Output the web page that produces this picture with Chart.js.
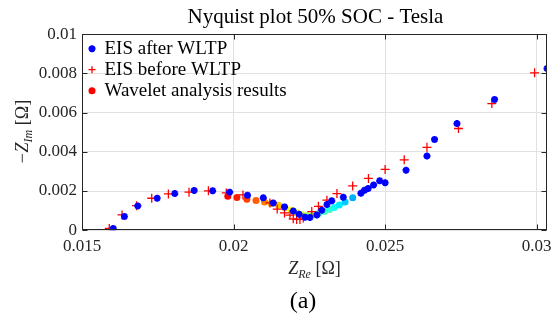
<!DOCTYPE html>
<html>
<head>
	<meta charset="UTF-8">
	<title>Nyquist plot 50% SOC - Tesla</title>
	<script src="https://cdn.jsdelivr.net/npm/chart.js@4.4.1/dist/chart.umd.min.js"></script>
	<style>
		html, body { margin: 0; padding: 0; background: #fff; }
		#wrap { width: 560px; height: 322px; }
	</style>
</head>
<body>
	<div id="wrap"><canvas id="nyquist"></canvas></div>
	<script>
	// values, Z_Re and -Z_Im in ohm
	const afterRe = [0.01603, 0.01640, 0.01684, 0.01748, 0.01806, 0.01870, 0.01931, 0.01987, 0.02046, 0.02098,
		0.02131, 0.02168, 0.02197, 0.02216, 0.02236, 0.02252, 0.02275, 0.02291, 0.02308, 0.02324,
		0.02362, 0.02420, 0.02432, 0.02444, 0.02462, 0.02482, 0.02500, 0.02569, 0.02638, 0.02663,
		0.02737, 0.02861, 0.03034];
	const afterIm = [0.00009, 0.00070, 0.00124, 0.00163, 0.00187, 0.00203, 0.00201, 0.00194, 0.00178, 0.00165,
		0.00139, 0.00119, 0.00098, 0.00082, 0.00066, 0.00065, 0.00078, 0.00102, 0.00131, 0.00150,
		0.00168, 0.00188, 0.00204, 0.00213, 0.00231, 0.00252, 0.00242, 0.00306, 0.00378, 0.00463,
		0.00544, 0.00667, 0.00825];

	const beforeRe = [0.01590, 0.01632, 0.01680, 0.01730, 0.01785, 0.01853, 0.01917, 0.01976, 0.02031, 0.02120,
		0.02144, 0.02168, 0.02186, 0.02197, 0.02208, 0.02219, 0.02230, 0.02258, 0.02280, 0.02308,
		0.02341, 0.02393, 0.02445, 0.02500, 0.02563, 0.02638, 0.02742, 0.02852, 0.02993];
	const beforeIm = [0.00009, 0.00078, 0.00125, 0.00163, 0.00185, 0.00194, 0.00201, 0.00190, 0.00180, 0.00139,
		0.00108, 0.00088, 0.00077, 0.00058, 0.00055, 0.00055, 0.00062, 0.00095, 0.00122, 0.00153,
		0.00187, 0.00226, 0.00264, 0.00310, 0.00359, 0.00423, 0.00519, 0.00646, 0.00803];

	const waveRe = [0.01981, 0.02011, 0.02044, 0.02074, 0.02102, 0.02124, 0.02148, 0.02170, 0.02190, 0.02208,
		0.02225, 0.02243, 0.02262, 0.02282, 0.02300, 0.02316, 0.02332, 0.02349, 0.02368, 0.02393];
	const waveIm = [0.00173, 0.00167, 0.00158, 0.00152, 0.00144, 0.00136, 0.00127, 0.00115, 0.00102, 0.00090,
		0.00080, 0.00075, 0.00077, 0.00085, 0.00095, 0.00106, 0.00116, 0.00128, 0.00144, 0.00165];

	const xTicks = [0.015, 0.02, 0.025, 0.03];
	const yTicks = [0, 0.002, 0.004, 0.006, 0.008, 0.01];
	const seriesNames = ['EIS after WLTP', 'EIS before WLTP', 'Wavelet analysis results'];

	const serif = 'Liberation Serif, Times New Roman, serif';

	let pts = (xs, ys) => xs.map((x, i) => ({x: x, y: ys[i]}));

	// jet colormap, run backwards (red -> blue) along the wavelet points
	let jet = (t) => {
		let c = (v) => Math.round(255 * Math.max(0, Math.min(1, v)));
		return 'rgb(' + c(1.5 - Math.abs(4 * t - 3)) + ',' + c(1.5 - Math.abs(4 * t - 2)) + ',' + c(1.5 - Math.abs(4 * t - 1)) + ')';
	};
	let waveColor = (ctx) => {
		let n = waveRe.length - 1;
		let i = ctx.dataIndex || 0;
		return jet(0.875 - 0.58 * i / n);
	};
	let fmt = (v) => String(parseFloat(v.toFixed(4)));

	// draws text pieces side by side (used for the subscripted axis labels)
	function drawPieces(ctx, pieces, cx, base) {
		let w = 0;
		pieces.forEach(p => { ctx.font = p.font; w += ctx.measureText(p.t).width; });
		let x = cx - w / 2;
		pieces.forEach(p => {
			ctx.font = p.font;
			ctx.fillText(p.t, x, base + (p.dy || 0));
			x += ctx.measureText(p.t).width;
		});
	}

	// move a layout box horizontally so it is centred on cx
	function centreOn(box, cx) {
		if (!box) return;
		let d = cx - (box.left + box.right) / 2;
		box.left += d;
		box.right += d;
	}

	const matlabAxes = {
		id: 'matlabAxes',
		afterLayout(chart) {
			const a = chart.chartArea;
			// legend sits inside the axes, top left
			let lg = chart.legend;
			let h = lg.bottom - lg.top;
			lg.left = a.left + 5;
			lg.top = a.top + 3;
			lg.bottom = lg.top + h;
			// title over the axes, "(a)" under the x label
			centreOn(chart.titleBlock, (a.left + a.right) / 2 + 1);
			let sub = chart.boxes.find(b => b.options && b.options.text === '(a)');
			centreOn(sub, 303);
		},
		afterDraw(chart) {
			const {ctx, chartArea: a, scales: {x, y}} = chart;
			ctx.save();
			ctx.strokeStyle = '#262626';
			ctx.lineWidth = 1;
			let L = Math.round(a.left) + 0.5, R = Math.round(a.right) - 0.5;
			let T = Math.round(a.top) + 0.5, B = Math.round(a.bottom) - 0.5;
			ctx.strokeRect(L, T, R - L, B - T);
			ctx.beginPath();
			xTicks.forEach(v => {
				let px = Math.round(x.getPixelForValue(v)) + 0.5;
				ctx.moveTo(px, B); ctx.lineTo(px, B - 5);
				ctx.moveTo(px, T); ctx.lineTo(px, T + 5);
			});
			yTicks.forEach(v => {
				let py = Math.round(y.getPixelForValue(v)) + 0.5;
				ctx.moveTo(L, py); ctx.lineTo(L + 5, py);
				ctx.moveTo(R, py); ctx.lineTo(R - 5, py);
			});
			ctx.stroke();

			// axis titles with subscripts
			ctx.fillStyle = '#262626';
			ctx.textBaseline = 'alphabetic';
			ctx.textAlign = 'left';
			drawPieces(ctx, [
				{t: 'Z', font: 'italic 18px ' + serif},
				{t: 'Re', font: 'italic 12px ' + serif, dy: 4},
				{t: ' [\u03A9]', font: '18px ' + serif}
			], (a.left + a.right) / 2, 274);
			ctx.translate(28, (a.top + a.bottom) / 2);
			ctx.rotate(-Math.PI / 2);
			drawPieces(ctx, [
				{t: '\u2212Z', font: 'italic 18px ' + serif},
				{t: 'Im', font: 'italic 12px ' + serif, dy: 4},
				{t: ' [\u03A9]', font: '18px ' + serif}
			], 0, 0);
			ctx.restore();
		}
	};

	const chart = new Chart(document.getElementById('nyquist'), {
		type: 'scatter',
		data: {
			datasets: [{
				label: seriesNames[0],
				data: pts(afterRe, afterIm),
				pointStyle: 'star',
				pointRadius: 3.5,
				pointBorderWidth: 2.2,
				pointBorderColor: '#0000ff',
				pointBackgroundColor: '#0000ff',
				borderColor: '#0000ff',
				backgroundColor: '#0000ff'
			}, {
				label: seriesNames[1],
				data: pts(beforeRe, beforeIm),
				pointStyle: 'cross',
				pointRadius: 4.5,
				pointBorderWidth: 1.3,
				pointBorderColor: '#ff0000',
				pointBackgroundColor: '#ff0000',
				borderColor: '#ff0000',
				backgroundColor: '#ff0000'
			}, {
				label: seriesNames[2],
				data: pts(waveRe, waveIm),
				pointStyle: 'circle',
				pointRadius: 3.5,
				pointBorderWidth: 0,
				pointBorderColor: waveColor,
				pointBackgroundColor: waveColor,
				borderColor: waveColor,
				backgroundColor: waveColor
			}]
		},
		options: {
			responsive: true,
			maintainAspectRatio: false,
			animation: false,
			events: [],
			layout: { padding: { left: 0, right: 13, top: 0, bottom: 0 } },
			scales: {
				x: {
					type: 'linear',
					min: 0.015,
					max: 0.03034,
					afterBuildTicks: (s) => { s.ticks = xTicks.map(v => ({value: v})); },
					afterFit: (s) => { s.height = 53; },
					grid: { color: '#e1e1e1', drawTicks: false },
					border: { display: false },
					ticks: { color: '#262626', padding: 6, font: { family: serif, size: 17 }, callback: fmt, maxRotation: 0 }
				},
				y: {
					type: 'linear',
					min: 0,
					max: 0.01,
					afterBuildTicks: (s) => { s.ticks = yTicks.map(v => ({value: v})); },
					afterFit: (s) => { s.width = 82; },
					grid: { color: '#e1e1e1', drawTicks: false },
					border: { display: false },
					ticks: { color: '#262626', padding: 5, font: { family: serif, size: 17 }, callback: fmt }
				}
			},
			plugins: {
				title: {
					display: true,
					text: 'Nyquist plot 50% SOC - Tesla',
					color: '#000',
					font: { family: serif, size: 21, weight: 'normal' },
					padding: { top: 5, bottom: 4 }
				},
				subtitle: {
					display: true,
					position: 'bottom',
					text: '(a)',
					color: '#000',
					font: { family: serif, size: 24, weight: 'normal' },
					padding: { top: 4, bottom: 6 }
				},
				legend: {
					position: 'chartArea',
					align: 'start',
					labels: {
						usePointStyle: true,
						boxWidth: 6,
						boxHeight: 5,
						padding: 2,
						color: '#000',
						font: { family: serif, size: 19 }
					}
				},
				tooltip: { enabled: false }
			}
		},
		plugins: [matlabAxes]
	});
	</script>
</body>
</html>
